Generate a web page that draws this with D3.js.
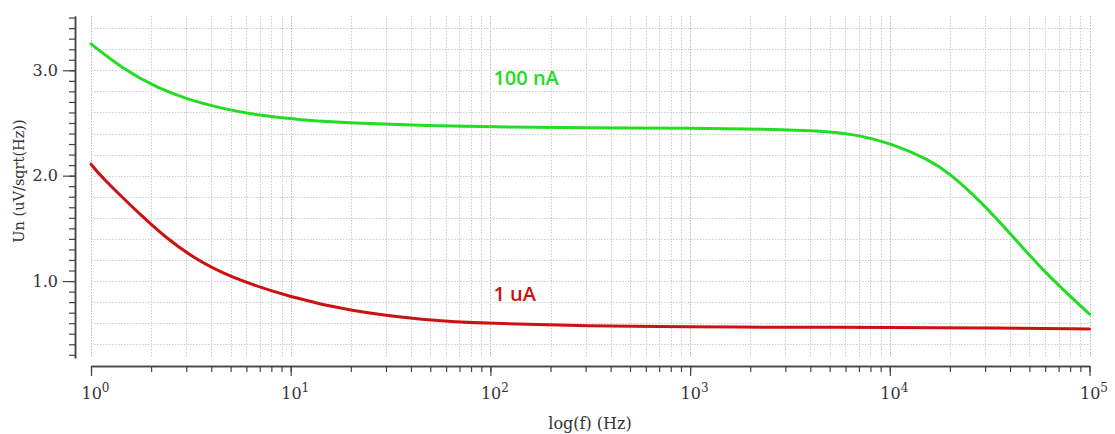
<!DOCTYPE html>
<html>
<head>
<meta charset="utf-8">
<script src="https://cdn.jsdelivr.net/npm/d3@7"></script>
<style>
  html, body { margin: 0; padding: 0; background: #fff; }
  svg { display: block; }
</style>
</head>
<body>
<svg id="chart" width="1115" height="434"></svg>
<script>
// ---- data ----
const freqGreen = [1, 1.45, 2.17, 3, 4.42, 7, 11.1, 20, 50, 100, 300, 1000, 2812, 5020, 7000, 10000, 15650, 19800, 28000, 41300, 60500, 100000];
const valuesGreen = [3.25, 3.01, 2.83, 2.73, 2.64, 2.57, 2.53, 2.50, 2.475, 2.462, 2.455, 2.45, 2.44, 2.42, 2.384, 2.31, 2.154, 2.026, 1.771, 1.425, 1.068, 0.686];
const freqRed = [1, 1.11, 1.83, 2.35, 3.19, 4.87, 10, 19.8, 46, 99, 303, 1000, 3000, 10000, 30000, 100000];
const valuesRed = [2.11, 2.0, 1.6, 1.42, 1.23, 1.04, 0.845, 0.715, 0.63, 0.597, 0.575, 0.564, 0.562, 0.56, 0.556, 0.545];
const seriesLabels = ["100 nA", "1 uA"];
const xMajorTicks = [1, 10, 100, 1000, 10000, 100000];
const xExponents = ["0", "1", "2", "3", "4", "5"];
const yMajorTicks = [1.0, 2.0, 3.0];
const yMajorLabels = ["1.0", "2.0", "3.0"];
const xTitle = "log(f) (Hz)";
const yTitle = "Un (uV/sqrt(Hz))";

// ---- layout ----
const svg = d3.select("#chart");
const x = d3.scaleLog().domain([1, 1e5]).range([91, 1089.5]);
const y = d3.scaleLinear().domain([0.27, 3.515]).range([358, 16]);

const xMinorTicks = [];
for (let d = 0; d < 5; d++) for (let m = 1; m <= 9; m++) xMinorTicks.push(m * Math.pow(10, d));
xMinorTicks.push(1e5);
const yMinorTicks = d3.range(3, 36).map(v => v / 10);
const yGrid = d3.range(2, 18).map(v => v / 5);

const gridColor = "#cccccc";
const axisColor = "#444";
const serif = "'DejaVu Serif', serif";

// grid
const grid = svg.append("g");
grid.selectAll("line.v").data(xMinorTicks).join("line")
  .attr("x1", d => Math.round(x(d)) + 0.5).attr("x2", d => Math.round(x(d)) + 0.5)
  .attr("y1", y(3.515)).attr("y2", y(0.27))
  .attr("stroke", d => xMajorTicks.includes(d) ? "#b8b8b8" : gridColor)
  .attr("stroke-width", 1)
  .attr("stroke-dasharray", "1.5,1.5");
grid.selectAll("line.h").data(yGrid).join("line")
  .attr("x1", x(1)).attr("x2", x(1e5))
  .attr("y1", d => Math.round(y(d)) + 0.5).attr("y2", d => Math.round(y(d)) + 0.5)
  .attr("stroke", gridColor)
  .attr("stroke-width", 1)
  .attr("stroke-dasharray", "1.5,1.5");

// x axis
const xAxisY = 366;
const gxMinor = svg.append("g").attr("transform", `translate(0,${xAxisY})`)
  .call(d3.axisBottom(x).tickValues(xMinorTicks).tickSize(6).tickSizeOuter(0).tickFormat(""));
const gxMajor = svg.append("g").attr("transform", `translate(0,${xAxisY})`)
  .call(d3.axisBottom(x).tickValues(xMajorTicks).tickSize(10).tickSizeOuter(0).tickFormat(""));
[gxMinor, gxMajor].forEach(g => {
  g.select(".domain").attr("stroke", axisColor).attr("stroke-width", 1.5);
  g.selectAll(".tick line").attr("stroke", axisColor).attr("stroke-width", 1.2);
});
gxMajor.selectAll(".tick").each(function(d, i) {
  const t = d3.select(this).append("text")
    .attr("x", -10).attr("y", 33)
    .attr("fill", "#333")
    .attr("font-family", serif)
    .attr("font-size", 16)
    .attr("text-anchor", "start");
  t.append("tspan").text("10");
  t.append("tspan").attr("dy", -7).attr("font-size", 12).text(xExponents[i]);
});

// y axis
const yAxisX = 75;
const gyMinor = svg.append("g").attr("transform", `translate(${yAxisX},0)`)
  .call(d3.axisLeft(y).tickValues(yMinorTicks).tickSize(6).tickSizeOuter(0).tickFormat(""));
const gyMajor = svg.append("g").attr("transform", `translate(${yAxisX},0)`)
  .call(d3.axisLeft(y).tickValues(yMajorTicks).tickSize(12).tickSizeOuter(0)
    .tickFormat((d, i) => yMajorLabels[i]));
[gyMinor, gyMajor].forEach(g => {
  g.select(".domain").attr("stroke", axisColor).attr("stroke-width", 1.5);
  g.selectAll(".tick line").attr("stroke", axisColor).attr("stroke-width", 1.2);
});
gyMajor.selectAll(".tick text")
  .attr("x", -17)
  .attr("fill", "#333")
  .attr("font-family", serif)
  .attr("font-size", 16);

// titles
svg.append("text")
  .attr("x", 590).attr("y", 429)
  .attr("text-anchor", "middle")
  .attr("fill", "#333")
  .attr("font-family", serif)
  .attr("font-size", 16)
  .text(xTitle);
svg.append("text")
  .attr("transform", "translate(24,181) rotate(-90)")
  .attr("text-anchor", "middle")
  .attr("fill", "#333")
  .attr("font-family", serif)
  .attr("font-size", 14.5)
  .text(yTitle);

// curves
const line = d3.line().x(d => x(d[0])).y(d => y(d[1])).curve(d3.curveBasis);
const series = [
  { f: freqGreen, v: valuesGreen, color: "#22dd22", label: seriesLabels[0], lx: 1e2, ly: 2.86 },
  { f: freqRed, v: valuesRed, color: "#cc1111", label: seriesLabels[1], lx: 1e2, ly: 0.81 }
];
series.forEach(s => {
  svg.append("path")
    .datum(d3.zip(s.f, s.v))
    .attr("d", line)
    .attr("fill", "none")
    .attr("stroke", s.color)
    .attr("stroke-width", 3)
    .attr("stroke-linecap", "round");
  svg.append("text")
    .attr("x", x(s.lx) + 3).attr("y", y(s.ly))
    .attr("fill", s.color)
    .attr("font-family", "'Open Sans', sans-serif")
    .attr("font-weight", 600)
    .attr("font-size", 20)
    .text(s.label);
});
</script>
</body>
</html>
